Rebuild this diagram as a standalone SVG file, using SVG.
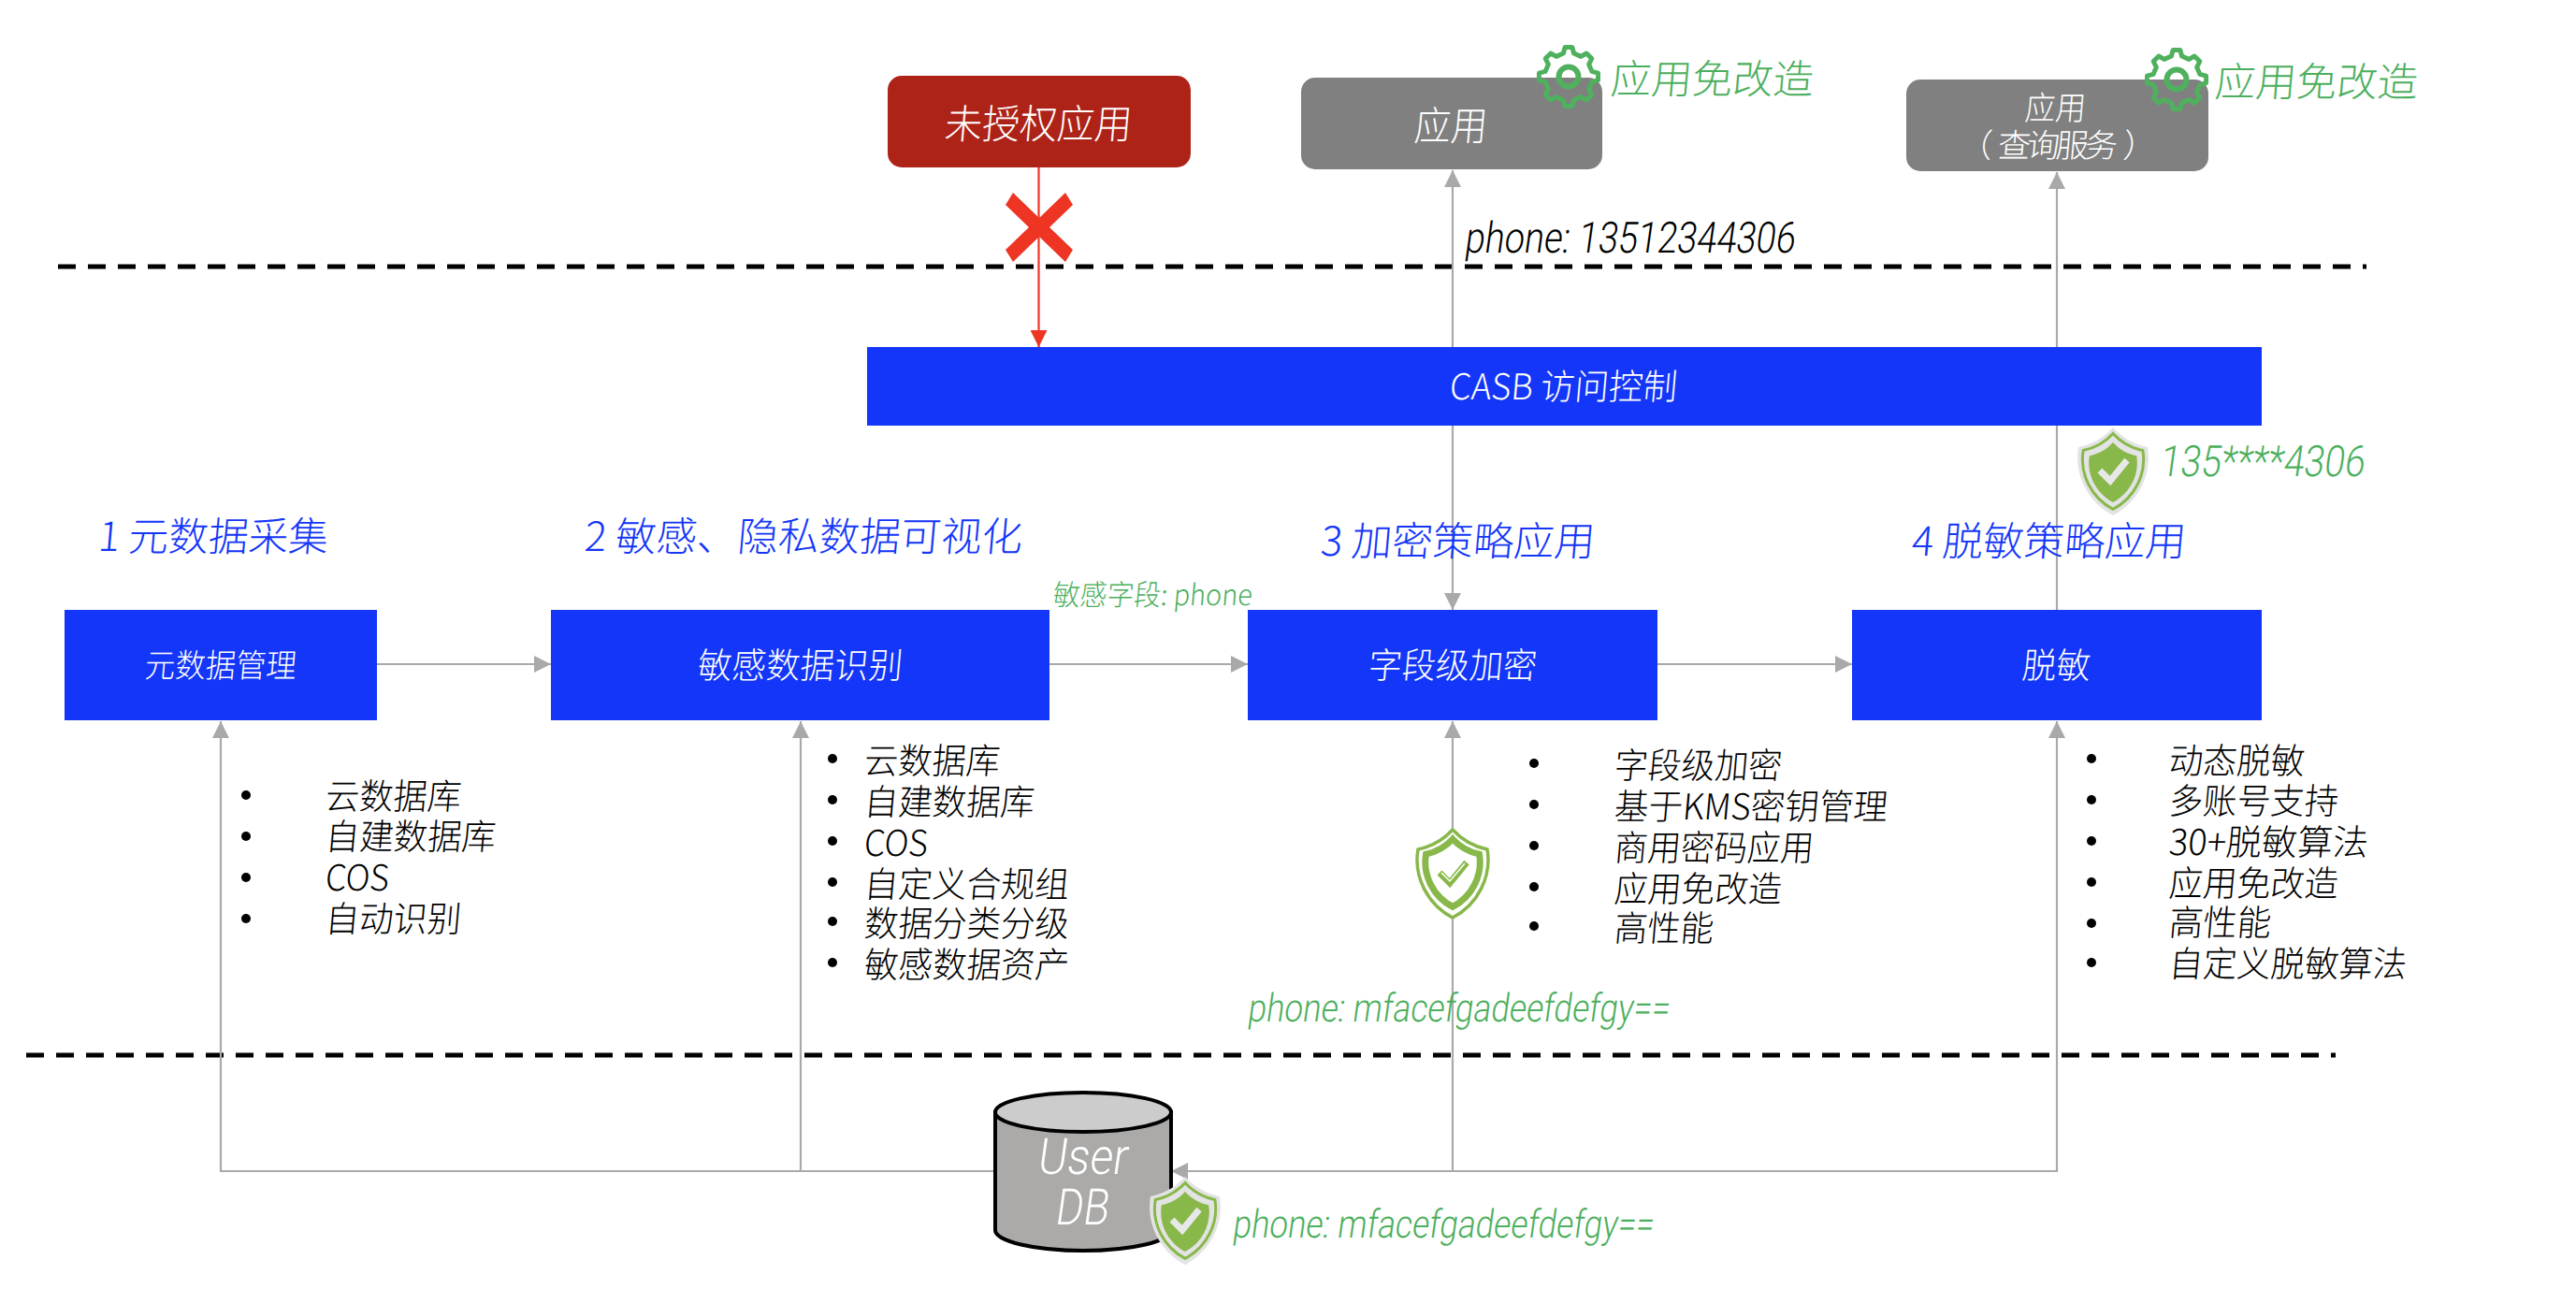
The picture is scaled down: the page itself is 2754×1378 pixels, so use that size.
<svg xmlns="http://www.w3.org/2000/svg" width="2754" height="1378" viewBox="0 0 2754 1378">
<style>
text{font-family:"Noto Sans CJK SC","Noto Sans",sans-serif;font-weight:200;}
.lat{font-family:"Roboto","Noto Sans",sans-serif;font-weight:300;}
.c{stroke:#A9A9A9;stroke-width:2.2;fill:none;}
.dash{stroke:#000;stroke-width:5;stroke-dasharray:19 13;fill:none;}
.w{fill:#fff;}.k{fill:#000;}.g{fill:#4CAF5D;}
.blue{fill:#1336F8;}
.f24{font-size:31px;}.f32{font-size:35px;}.f36{font-size:38px;}.f40{font-size:43px;}.f48{font-size:54px;}
.l36{font-size:42px;}.l40{font-size:46px;}
</style>
<defs>
<marker id="ah" markerUnits="userSpaceOnUse" markerWidth="18" markerHeight="18" refX="18" refY="9" orient="auto"><path d="M0 0L18 9L0 18Z" fill="#A9A9A9"/></marker>
<marker id="ar" markerUnits="userSpaceOnUse" markerWidth="18" markerHeight="18" refX="18" refY="9" orient="auto"><path d="M0 0L18 9L0 18Z" fill="#EE3524"/></marker>
<g id="gear"><path d="M-5.6-25L-3.8-31.5L3.8-31.5L5.6-25L13.2-21.6L19.1-25L24.8-19.4L21.6-13.2L25-5.6L31.5-3.8L31.5 3.8L25 5.6L21.6 13.2L24.8 19.4L19.1 25L13.2 21.6L5.6 25L3.8 31.5L-3.8 31.5L-5.6 25L-13.2 21.6L-19.1 25L-24.8 19.4L-21.6 13.2L-25 5.6L-31.5 3.8L-31.5-3.8L-25-5.6L-21.6-13.2L-24.8-19.4L-19.1-25L-13.2-21.6Z" fill="none" stroke="#4FB05E" stroke-width="5" stroke-linejoin="round"/><circle r="10.5" fill="none" stroke="#4FB05E" stroke-width="6"/></g>
<path id="sh" d="M39 0C50 12 62 18 76 21C81 50 66 80 39 94C12 80-3 50 2 21C16 18 28 12 39 0Z"/>
<g id="shieldA">
<use href="#sh" fill="#E3E3E3"/>
<use href="#sh" transform="translate(5.5 6.5) scale(.86)" fill="#E3E3E3" stroke="#88B84A" stroke-width="3.5"/>
<use href="#sh" transform="translate(12.5 16) scale(.68)" fill="#88B84A"/>
<path d="M25 46L36 57L54 35" fill="none" stroke="#E8E8E8" stroke-width="7"/>
</g>
<g id="shieldB">
<use href="#sh" fill="#fff" stroke="#88B84A" stroke-width="3.5"/>
<use href="#sh" transform="translate(9 10) scale(.77)" fill="#fff" stroke="#88B84A" stroke-width="9"/>
<path d="M25 46L36 57L54 35" fill="none" stroke="#88B84A" stroke-width="7"/>
<path d="M27 46L36 55L52 36" fill="none" stroke="#fff" stroke-width="1.5"/>
</g>
</defs>

<line class="dash" x1="62" y1="285" x2="2530" y2="285"/>
<line class="dash" x1="28" y1="1128" x2="2497" y2="1128"/>

<g id="connectors">
<path class="c" d="M403 710H589" marker-end="url(#ah)"/>
<path class="c" d="M1122 710H1334" marker-end="url(#ah)"/>
<path class="c" d="M1772 710H1980" marker-end="url(#ah)"/>
<path class="c" d="M1553 455V652" marker-end="url(#ah)"/>
<path class="c" d="M1553 372V182" marker-end="url(#ah)"/>
<path class="c" d="M2199 652V184" marker-end="url(#ah)"/>
<path class="c" d="M1064 1252H236V771" marker-end="url(#ah)"/>
<path class="c" d="M856 1252V771" marker-end="url(#ah)"/>
<path class="c" d="M1553 1252V771" marker-end="url(#ah)"/>
<path class="c" d="M2199 771V1252H1252" marker-end="url(#ah)"/>
<path d="M2199 771l-9 18h18z" fill="#A9A9A9"/>
<path d="M1110.5 179V371" stroke="#EE3524" stroke-width="2.2" fill="none" marker-end="url(#ar)"/>
<path id="cross" d="M1075 219L1083 206L1111 233L1139 206L1147 219L1122 243L1147 267L1139 280L1111 253L1083 280L1075 267L1100 243Z" fill="#EE3524"/>
</g>

<g id="unauth"><rect x="949" y="81" width="324" height="98" rx="15" fill="#AE2318"/><text class="w f40" transform="translate(1009 148) skewX(-5)" textLength="200" lengthAdjust="spacingAndGlyphs">未授权应用</text></g>
<g id="app1"><rect x="1391" y="83" width="322" height="98" rx="15" fill="#808080"/><text class="w f40" transform="translate(1511 150) skewX(-5)" textLength="78" lengthAdjust="spacingAndGlyphs">应用</text></g>
<g id="app2"><rect x="2038" y="85" width="323" height="98" rx="15" fill="#808080"/><text class="w f32" transform="translate(2164 128) skewX(-5)" textLength="65" lengthAdjust="spacingAndGlyphs">应用</text><text class="w f32" transform="translate(2094 168) skewX(-5)" x="0 41 72 103 134 175">（查询服务）</text></g>
<g id="gear1"><use href="#gear" x="1677" y="82"/><text class="g f40" transform="translate(1721 100) skewX(-5)" textLength="217" lengthAdjust="spacingAndGlyphs">应用免改造</text></g>
<g id="gear2"><use href="#gear" x="2327" y="85"/><text class="g f40" transform="translate(2367 103) skewX(-5)" textLength="217" lengthAdjust="spacingAndGlyphs">应用免改造</text></g>
<text class="lat k l40" transform="translate(1565 270) skewX(-8)" textLength="353" lengthAdjust="spacingAndGlyphs">phone: 13512344306</text>

<g id="casb"><rect x="927" y="371" width="1491" height="84" fill="#1336F8"/><text class="w f36" transform="translate(1549 427) skewX(-5)" textLength="243" lengthAdjust="spacingAndGlyphs">CASB 访问控制</text></g>
<g id="mask"><use href="#shieldA" x="2220" y="457"/><text class="lat g l40" transform="translate(2308 509) skewX(-8)" textLength="219" lengthAdjust="spacingAndGlyphs">135****4306</text></g>

<text class="blue f40" transform="translate(104 589) skewX(-5)" textLength="246" lengthAdjust="spacingAndGlyphs">1 元数据采集</text>
<text class="blue f40" transform="translate(624 589) skewX(-5)" textLength="468" lengthAdjust="spacingAndGlyphs">2 敏感、隐私数据可视化</text>
<text class="blue f40" transform="translate(1411 594) skewX(-5)" textLength="293" lengthAdjust="spacingAndGlyphs">3 加密策略应用</text>
<text class="blue f40" transform="translate(2043 594) skewX(-5)" textLength="293" lengthAdjust="spacingAndGlyphs">4 脱敏策略应用</text>
<text class="g f24" transform="translate(1125 647) skewX(-5)" textLength="213" lengthAdjust="spacingAndGlyphs">敏感字段: phone</text>

<g id="n1"><rect x="69" y="652" width="334" height="118" fill="#1336F8"/><text class="w f32" transform="translate(154 724) skewX(-5)" textLength="162" lengthAdjust="spacingAndGlyphs">元数据管理</text></g>
<g id="n2"><rect x="589" y="652" width="533" height="118" fill="#1336F8"/><text class="w f36" transform="translate(745 725) skewX(-5)" textLength="219" lengthAdjust="spacingAndGlyphs">敏感数据识别</text></g>
<g id="n3"><rect x="1334" y="652" width="438" height="118" fill="#1336F8"/><text class="w f36" transform="translate(1462 725) skewX(-5)" textLength="180" lengthAdjust="spacingAndGlyphs">字段级加密</text></g>
<g id="n4"><rect x="1980" y="652" width="438" height="118" fill="#1336F8"/><text class="w f36" transform="translate(2161 725) skewX(-5)" textLength="73" lengthAdjust="spacingAndGlyphs">脱敏</text></g>

<g id="list1">
<circle cx="263" cy="850" r="5"/><circle cx="263" cy="894" r="5"/><circle cx="263" cy="938" r="5"/><circle cx="263" cy="982" r="5"/>
<text class="k f36" transform="translate(347 865) skewX(-5)" textLength="145" lengthAdjust="spacingAndGlyphs">云数据库</text>
<text class="k f36" transform="translate(347 908) skewX(-5)" textLength="182" lengthAdjust="spacingAndGlyphs">自建数据库</text>
<text class="k f36" transform="translate(347 952) skewX(-5)" textLength="68" lengthAdjust="spacingAndGlyphs">COS</text>
<text class="k f36" transform="translate(347 996) skewX(-5)" textLength="145" lengthAdjust="spacingAndGlyphs">自动识别</text>
</g>
<g id="list2">
<circle cx="890" cy="811" r="5"/><circle cx="890" cy="855" r="5"/><circle cx="890" cy="899" r="5"/><circle cx="890" cy="943" r="5"/><circle cx="890" cy="985" r="5"/><circle cx="890" cy="1029" r="5"/>
<text class="k f36" transform="translate(923 827) skewX(-5)" textLength="145" lengthAdjust="spacingAndGlyphs">云数据库</text>
<text class="k f36" transform="translate(923 871) skewX(-5)" textLength="182" lengthAdjust="spacingAndGlyphs">自建数据库</text>
<text class="k f36" transform="translate(923 915) skewX(-5)" textLength="68" lengthAdjust="spacingAndGlyphs">COS</text>
<text class="k f36" transform="translate(923 959) skewX(-5)" textLength="219" lengthAdjust="spacingAndGlyphs">自定义合规组</text>
<text class="k f36" transform="translate(923 1001) skewX(-5)" textLength="219" lengthAdjust="spacingAndGlyphs">数据分类分级</text>
<text class="k f36" transform="translate(923 1045) skewX(-5)" textLength="219" lengthAdjust="spacingAndGlyphs">敏感数据资产</text>
</g>
<g id="list3">
<circle cx="1640" cy="816" r="5"/><circle cx="1640" cy="860" r="5"/><circle cx="1640" cy="904" r="5"/><circle cx="1640" cy="948" r="5"/><circle cx="1640" cy="990" r="5"/>
<text class="k f36" transform="translate(1725 832) skewX(-5)" textLength="179" lengthAdjust="spacingAndGlyphs">字段级加密</text>
<text class="k f36" transform="translate(1725 876) skewX(-5)" textLength="292" lengthAdjust="spacingAndGlyphs">基于KMS密钥管理</text>
<text class="k f36" transform="translate(1725 920) skewX(-5)" textLength="213" lengthAdjust="spacingAndGlyphs">商用密码应用</text>
<text class="k f36" transform="translate(1725 964) skewX(-5)" textLength="179" lengthAdjust="spacingAndGlyphs">应用免改造</text>
<text class="k f36" transform="translate(1725 1006) skewX(-5)" textLength="106" lengthAdjust="spacingAndGlyphs">高性能</text>
</g>
<g id="list4">
<circle cx="2236" cy="811" r="5"/><circle cx="2236" cy="855" r="5"/><circle cx="2236" cy="899" r="5"/><circle cx="2236" cy="943" r="5"/><circle cx="2236" cy="987" r="5"/><circle cx="2236" cy="1029" r="5"/>
<text class="k f36" transform="translate(2318 827) skewX(-5)" textLength="145" lengthAdjust="spacingAndGlyphs">动态脱敏</text>
<text class="k f36" transform="translate(2318 870) skewX(-5)" textLength="181" lengthAdjust="spacingAndGlyphs">多账号支持</text>
<text class="k f36" transform="translate(2318 914) skewX(-5)" textLength="213" lengthAdjust="spacingAndGlyphs">30+脱敏算法</text>
<text class="k f36" transform="translate(2318 958) skewX(-5)" textLength="181" lengthAdjust="spacingAndGlyphs">应用免改造</text>
<text class="k f36" transform="translate(2318 1000) skewX(-5)" textLength="109" lengthAdjust="spacingAndGlyphs">高性能</text>
<text class="k f36" transform="translate(2318 1044) skewX(-5)" textLength="254" lengthAdjust="spacingAndGlyphs">自定义脱敏算法</text>
</g>

<use id="shield3" href="#shieldB" x="1514" y="887"/>
<text class="lat g l36" transform="translate(1333 1092) skewX(-8)" textLength="451" lengthAdjust="spacingAndGlyphs">phone: mfacefgadeefdefgy==</text>

<g id="db">
<path d="M1064 1189V1315C1064 1327 1106 1337 1158 1337C1210 1337 1252 1327 1252 1315V1189Z" fill="#ABAAA9" stroke="#000" stroke-width="4"/>
<ellipse cx="1158" cy="1189" rx="94" ry="21" fill="#CCCCCC" stroke="#000" stroke-width="4"/>
<text class="lat w f48" transform="translate(1108 1255) skewX(-8)" textLength="96" lengthAdjust="spacingAndGlyphs">User</text>
<text class="lat w f48" transform="translate(1127 1309) skewX(-8)" textLength="57" lengthAdjust="spacingAndGlyphs">DB</text>
</g>
<use id="shield-db" href="#shieldA" x="1228" y="1258"/>
<text class="lat g l36" transform="translate(1317 1323) skewX(-8)" textLength="450" lengthAdjust="spacingAndGlyphs">phone: mfacefgadeefdefgy==</text>
</svg>
